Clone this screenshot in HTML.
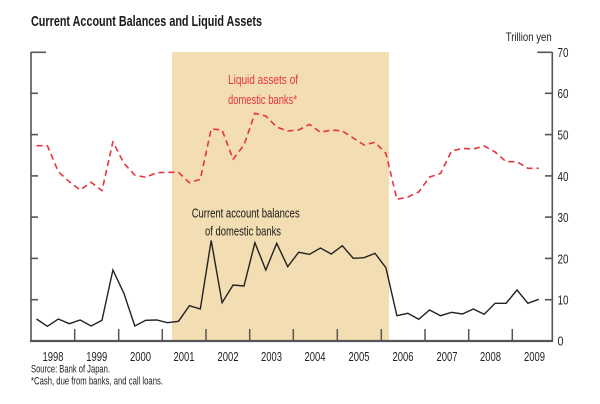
<!DOCTYPE html>
<html><head><meta charset="utf-8"><style>
html,body{margin:0;padding:0;background:#fff;}
svg{display:block;}
text{font-family:"Liberation Sans",Arial,sans-serif;}
</style></head><body>
<svg width="600" height="404" viewBox="0 0 600 404" xmlns="http://www.w3.org/2000/svg">
<rect x="0" y="0" width="600" height="404" fill="#fff"/>
<text x="31" y="26" font-size="15" font-weight="bold" fill="#1a1a1a" textLength="231" lengthAdjust="spacingAndGlyphs">Current Account Balances and Liquid Assets</text>
<rect x="172" y="52" width="217" height="289" fill="#f3ddb3"/>
<g stroke="#555" stroke-width="1.6" fill="none">
<line x1="31" y1="52" x2="31" y2="341"/>
<line x1="552.3" y1="52" x2="552.3" y2="341"/>
<line x1="31" y1="52.3" x2="46" y2="52.3"/>
<line x1="537.3" y1="52.3" x2="552.3" y2="52.3"/>
<line x1="31" y1="93.3" x2="38" y2="93.3"/><line x1="545" y1="93.3" x2="552.3" y2="93.3"/>
<line x1="31" y1="134.6" x2="38" y2="134.6"/><line x1="545" y1="134.6" x2="552.3" y2="134.6"/>
<line x1="31" y1="175.9" x2="38" y2="175.9"/><line x1="545" y1="175.9" x2="552.3" y2="175.9"/>
<line x1="31" y1="217.1" x2="38" y2="217.1"/><line x1="545" y1="217.1" x2="552.3" y2="217.1"/>
<line x1="31" y1="258.4" x2="38" y2="258.4"/><line x1="545" y1="258.4" x2="552.3" y2="258.4"/>
<line x1="31" y1="299.7" x2="38" y2="299.7"/><line x1="545" y1="299.7" x2="552.3" y2="299.7"/>
</g>
<line x1="30" y1="341" x2="553" y2="341" stroke="#555" stroke-width="2.2"/>
<g stroke="#555" stroke-width="1.5">
<line x1="74.7" y1="329" x2="74.7" y2="341"/>
<line x1="118.7" y1="329" x2="118.7" y2="341"/>
<line x1="162.3" y1="329" x2="162.3" y2="341"/>
<line x1="206" y1="329" x2="206" y2="341"/>
<line x1="249.7" y1="329" x2="249.7" y2="341"/>
<line x1="293.3" y1="329" x2="293.3" y2="341"/>
<line x1="337.3" y1="329" x2="337.3" y2="341"/>
<line x1="381.3" y1="329" x2="381.3" y2="341"/>
<line x1="425" y1="329" x2="425" y2="341"/>
<line x1="468.7" y1="329" x2="468.7" y2="341"/>
<line x1="512.3" y1="329" x2="512.3" y2="341"/>
</g>
<polyline fill="none" stroke="#e8343c" stroke-width="1.6" stroke-dasharray="6,4" stroke-linejoin="round" points="36.5,145.7 47.4,145.7 58.3,171.7 69.3,181.7 80.2,190 91.1,182.3 102,190.7 112.9,141.7 123.9,163.3 134.8,175 145.7,177.3 156.6,172.7 167.5,172.3 178.5,172.3 189.4,182.7 200.3,179.3 211.2,129 222.1,130 233.1,159.3 244,145 254.9,113.3 265.8,116 276.7,127 287.7,131 298.6,130 309.5,124.3 320.4,132.3 331.3,130 342.3,131 353.2,138 364.1,145 375,142.3 385.9,153.3 396.9,199.3 407.8,197 418.7,192 429.6,177 440.5,173.5 451.5,151 462.4,148.5 473.3,149 484.2,146 495.1,152 506.1,161.7 517,161.7 527.9,168.3 538.8,168.3"/>
<polyline fill="none" stroke="#222" stroke-width="1.4" stroke-linejoin="miter" points="36.5,319 47.4,326.3 58.3,319 69.3,323.7 80.2,320 91.1,326 102,320.3 112.9,270 123.9,293.3 134.8,326 145.7,320.3 156.6,320 167.5,322.7 178.5,321.3 189.4,305.7 200.3,309 211.2,240.5 222.1,302.7 233.1,285 244,286 254.9,242.7 265.8,270 276.7,243.3 287.7,266.7 298.6,252.3 309.5,254.3 320.4,248 331.3,254 342.3,245.7 353.2,258.3 364.1,257.7 375,253.3 385.9,267.7 396.9,315.7 407.8,313.3 418.7,319.3 429.6,310 440.5,315.7 451.5,312.3 462.4,314 473.3,309 484.2,314.3 495.1,303.3 506.1,303.3 517,290 527.9,303.3 538.8,299.3"/>
<text x="505.7" y="41" font-size="12" fill="#222" textLength="46" lengthAdjust="spacingAndGlyphs">Trillion yen</text>
<g font-size="13" fill="#222">
<text x="557.5" y="57" textLength="11" lengthAdjust="spacingAndGlyphs">70</text>
<text x="557.5" y="98.2" textLength="11" lengthAdjust="spacingAndGlyphs">60</text>
<text x="557.5" y="139.5" textLength="11" lengthAdjust="spacingAndGlyphs">50</text>
<text x="557.5" y="180.8" textLength="11" lengthAdjust="spacingAndGlyphs">40</text>
<text x="557.5" y="222" textLength="11" lengthAdjust="spacingAndGlyphs">30</text>
<text x="557.5" y="263.3" textLength="11" lengthAdjust="spacingAndGlyphs">20</text>
<text x="557.5" y="304.6" textLength="11" lengthAdjust="spacingAndGlyphs">10</text>
<text x="557.5" y="345.5" textLength="6" lengthAdjust="spacingAndGlyphs">0</text>
</g>
<g font-size="13" fill="#222">
<text x="42.5" y="361" textLength="21" lengthAdjust="spacingAndGlyphs">1998</text>
<text x="86.2" y="361" textLength="21" lengthAdjust="spacingAndGlyphs">1999</text>
<text x="130" y="361" textLength="21" lengthAdjust="spacingAndGlyphs">2000</text>
<text x="173.5" y="361" textLength="21" lengthAdjust="spacingAndGlyphs">2001</text>
<text x="217.5" y="361" textLength="21" lengthAdjust="spacingAndGlyphs">2002</text>
<text x="261" y="361" textLength="21" lengthAdjust="spacingAndGlyphs">2003</text>
<text x="304.5" y="361" textLength="21" lengthAdjust="spacingAndGlyphs">2004</text>
<text x="348.5" y="361" textLength="21" lengthAdjust="spacingAndGlyphs">2005</text>
<text x="392.5" y="361" textLength="21" lengthAdjust="spacingAndGlyphs">2006</text>
<text x="436.5" y="361" textLength="21" lengthAdjust="spacingAndGlyphs">2007</text>
<text x="480" y="361" textLength="21" lengthAdjust="spacingAndGlyphs">2008</text>
<text x="524" y="361" textLength="21" lengthAdjust="spacingAndGlyphs">2009</text>
</g>
<text x="31" y="372.5" font-size="11" fill="#222" textLength="79" lengthAdjust="spacingAndGlyphs">Source: Bank of Japan.</text>
<text x="31" y="384.5" font-size="11" fill="#222" textLength="132" lengthAdjust="spacingAndGlyphs">*Cash, due from banks, and call loans.</text>
<text x="228" y="84" font-size="13" fill="#e8343c" textLength="70" lengthAdjust="spacingAndGlyphs">Liquid assets of</text>
<text x="228" y="104" font-size="13" fill="#e8343c" textLength="69" lengthAdjust="spacingAndGlyphs">domestic banks*</text>
<text x="191.7" y="217.5" font-size="13" fill="#1a1a1a" textLength="108" lengthAdjust="spacingAndGlyphs">Current account balances</text>
<text x="205" y="235.7" font-size="13" fill="#1a1a1a" textLength="76" lengthAdjust="spacingAndGlyphs">of domestic banks</text>
</svg>
</body></html>
